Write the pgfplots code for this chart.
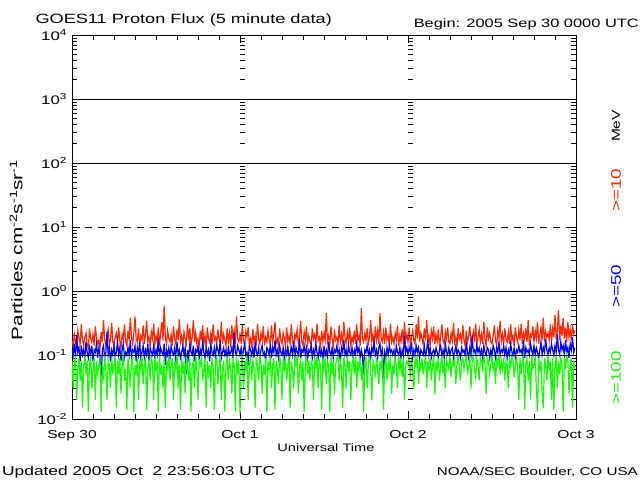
\documentclass[border=0pt]{standalone}
\usepackage{pgfplots}
\pgfplotsset{compat=1.18}
\usepackage{pgfplotstable}
\usepackage{fontspec}
\setmainfont{Liberation Sans}[FakeStretch=1.35]
\definecolor{gred}{RGB}{255,40,0}
\definecolor{gblue}{RGB}{0,0,255}
\definecolor{ggreen}{RGB}{20,255,0}
\newcommand\fs[1]{\fontsize{#1}{#1}\selectfont}
\newcommand\tp[1]{10\textsuperscript{#1}}

% >=10 MeV, 10-minute samples from 2005 Sep 30 0000 UTC (12 per row = 2 h)
\pgfplotstableread[row sep=\\,header=false]{
0.17\\0.14\\0.21\\0.16\\0.13\\0.24\\0.18\\0.15\\0.30\\0.17\\0.14\\0.19\\
0.22\\0.15\\0.13\\0.26\\0.18\\0.16\\0.21\\0.14\\0.28\\0.19\\0.15\\0.17\\
0.13\\0.23\\0.16\\0.35\\0.18\\0.14\\0.20\\0.25\\0.15\\0.17\\0.32\\0.16\\
0.14\\0.19\\0.22\\0.15\\0.27\\0.17\\0.13\\0.21\\0.18\\0.30\\0.16\\0.14\\
0.24\\0.17\\0.38\\0.19\\0.15\\0.22\\0.40\\0.18\\0.16\\0.26\\0.14\\0.20\\
0.17\\0.29\\0.15\\0.21\\0.34\\0.16\\0.19\\0.14\\0.23\\0.18\\0.31\\0.15\\
0.20\\0.16\\0.27\\0.14\\0.22\\0.33\\0.17\\0.58\\0.19\\0.15\\0.24\\0.18\\
0.16\\0.21\\0.14\\0.28\\0.18\\0.15\\0.25\\0.17\\0.36\\0.16\\0.20\\0.14\\
0.23\\0.18\\0.15\\0.31\\0.17\\0.26\\0.14\\0.19\\0.35\\0.16\\0.22\\0.15\\
0.18\\0.14\\0.24\\0.17\\0.29\\0.15\\0.20\\0.13\\0.27\\0.18\\0.16\\0.22\\
0.15\\0.30\\0.17\\0.19\\0.14\\0.25\\0.18\\0.16\\0.33\\0.15\\0.21\\0.17\\
0.14\\0.26\\0.16\\0.22\\0.13\\0.29\\0.17\\0.24\\0.15\\0.40\\0.18\\0.16\\
0.21\\0.15\\0.30\\0.17\\0.14\\0.23\\0.19\\0.27\\0.15\\0.18\\0.13\\0.25\\
0.16\\0.20\\0.14\\0.31\\0.18\\0.15\\0.22\\0.17\\0.28\\0.14\\0.19\\0.16\\
0.24\\0.17\\0.15\\0.29\\0.16\\0.21\\0.33\\0.15\\0.18\\0.14\\0.26\\0.17\\
0.15\\0.22\\0.18\\0.14\\0.27\\0.16\\0.20\\0.15\\0.30\\0.17\\0.13\\0.21\\
0.18\\0.25\\0.15\\0.19\\0.34\\0.16\\0.14\\0.23\\0.17\\0.28\\0.15\\0.20\\
0.16\\0.14\\0.26\\0.18\\0.21\\0.15\\0.31\\0.17\\0.19\\0.14\\0.24\\0.16\\
0.22\\0.17\\0.45\\0.16\\0.20\\0.15\\0.28\\0.18\\0.14\\0.25\\0.17\\0.19\\
0.15\\0.29\\0.16\\0.21\\0.14\\0.33\\0.18\\0.15\\0.23\\0.17\\0.27\\0.14\\
0.19\\0.16\\0.24\\0.15\\0.30\\0.17\\0.20\\0.14\\0.54\\0.18\\0.16\\0.22\\
0.17\\0.26\\0.15\\0.19\\0.35\\0.16\\0.21\\0.14\\0.28\\0.17\\0.24\\0.15\\
0.45\\0.18\\0.16\\0.23\\0.15\\0.27\\0.17\\0.20\\0.14\\0.31\\0.16\\0.19\\
0.15\\0.22\\0.18\\0.29\\0.14\\0.20\\0.16\\0.25\\0.15\\0.33\\0.17\\0.21\\
0.16\\0.27\\0.14\\0.19\\0.24\\0.17\\0.15\\0.30\\0.18\\0.40\\0.16\\0.22\\
0.18\\0.15\\0.26\\0.17\\0.35\\0.16\\0.20\\0.14\\0.24\\0.18\\0.28\\0.15\\
0.21\\0.16\\0.25\\0.14\\0.19\\0.30\\0.17\\0.15\\0.23\\0.18\\0.27\\0.16\\
0.15\\0.22\\0.17\\0.32\\0.16\\0.19\\0.14\\0.26\\0.18\\0.21\\0.15\\0.29\\
0.17\\0.14\\0.24\\0.16\\0.20\\0.28\\0.15\\0.18\\0.23\\0.16\\0.31\\0.14\\
0.19\\0.25\\0.16\\0.21\\0.15\\0.33\\0.17\\0.14\\0.27\\0.18\\0.22\\0.16\\
0.15\\0.20\\0.29\\0.17\\0.14\\0.24\\0.19\\0.34\\0.16\\0.21\\0.15\\0.26\\
0.18\\0.16\\0.23\\0.15\\0.30\\0.17\\0.20\\0.14\\0.27\\0.19\\0.16\\0.25\\
0.17\\0.31\\0.15\\0.22\\0.18\\0.26\\0.16\\0.35\\0.14\\0.21\\0.19\\0.28\\
0.16\\0.24\\0.18\\0.33\\0.15\\0.20\\0.27\\0.17\\0.38\\0.16\\0.23\\0.19\\
0.22\\0.17\\0.30\\0.16\\0.26\\0.19\\0.42\\0.18\\0.24\\0.50\\0.17\\0.29\\
0.20\\0.38\\0.18\\0.27\\0.16\\0.33\\0.19\\0.25\\0.17\\0.30\\0.21\\0.24\\
}\redtab

% >=50 MeV
\pgfplotstableread[row sep=\\,header=false]{
0.12\\0.10\\0.15\\0.09\\0.20\\0.11\\0.13\\0.08\\0.14\\0.10\\0.12\\0.09\\
0.16\\0.11\\0.09\\0.13\\0.10\\0.14\\0.08\\0.12\\0.11\\0.15\\0.09\\0.13\\
0.10\\0.04\\0.12\\0.14\\0.09\\0.11\\0.23\\0.10\\0.13\\0.08\\0.12\\0.10\\
0.14\\0.09\\0.11\\0.16\\0.10\\0.13\\0.08\\0.12\\0.15\\0.09\\0.11\\0.10\\
0.13\\0.10\\0.17\\0.09\\0.12\\0.11\\0.14\\0.08\\0.13\\0.10\\0.16\\0.09\\
0.11\\0.14\\0.09\\0.12\\0.10\\0.15\\0.08\\0.13\\0.11\\0.10\\0.14\\0.09\\
0.12\\0.10\\0.18\\0.09\\0.13\\0.11\\0.10\\0.15\\0.07\\0.12\\0.10\\0.13\\
0.09\\0.14\\0.11\\0.10\\0.13\\0.08\\0.16\\0.10\\0.12\\0.09\\0.11\\0.14\\
0.10\\0.13\\0.05\\0.12\\0.09\\0.15\\0.11\\0.10\\0.14\\0.08\\0.12\\0.11\\
0.14\\0.09\\0.12\\0.10\\0.16\\0.11\\0.09\\0.13\\0.10\\0.12\\0.08\\0.15\\
0.11\\0.10\\0.13\\0.09\\0.14\\0.12\\0.10\\0.17\\0.09\\0.11\\0.13\\0.10\\
0.12\\0.08\\0.14\\0.10\\0.11\\0.13\\0.09\\0.22\\0.11\\0.10\\0.14\\0.12\\
0.10\\0.13\\0.09\\0.12\\0.15\\0.10\\0.11\\0.08\\0.14\\0.12\\0.10\\0.13\\
0.09\\0.16\\0.11\\0.10\\0.13\\0.09\\0.12\\0.14\\0.10\\0.11\\0.08\\0.13\\
0.12\\0.10\\0.15\\0.09\\0.13\\0.11\\0.17\\0.10\\0.12\\0.09\\0.14\\0.11\\
0.10\\0.13\\0.09\\0.12\\0.10\\0.14\\0.08\\0.11\\0.13\\0.10\\0.16\\0.09\\
0.13\\0.11\\0.10\\0.18\\0.09\\0.12\\0.11\\0.14\\0.10\\0.13\\0.09\\0.12\\
0.11\\0.14\\0.09\\0.12\\0.10\\0.15\\0.11\\0.09\\0.13\\0.10\\0.12\\0.08\\
0.14\\0.10\\0.12\\0.09\\0.16\\0.11\\0.10\\0.13\\0.09\\0.12\\0.11\\0.14\\
0.10\\0.12\\0.08\\0.13\\0.11\\0.17\\0.10\\0.12\\0.09\\0.14\\0.11\\0.10\\
0.13\\0.09\\0.12\\0.10\\0.15\\0.11\\0.13\\0.09\\0.12\\0.10\\0.05\\0.12\\
0.11\\0.14\\0.10\\0.12\\0.09\\0.13\\0.11\\0.16\\0.10\\0.12\\0.09\\0.13\\
0.15\\0.10\\0.12\\0.04\\0.11\\0.09\\0.13\\0.10\\0.14\\0.11\\0.12\\0.10\\
0.12\\0.09\\0.14\\0.11\\0.10\\0.13\\0.09\\0.12\\0.10\\0.20\\0.11\\0.13\\
0.10\\0.13\\0.11\\0.16\\0.09\\0.12\\0.10\\0.14\\0.11\\0.13\\0.09\\0.12\\
0.11\\0.10\\0.14\\0.09\\0.12\\0.17\\0.10\\0.13\\0.09\\0.11\\0.12\\0.10\\
0.13\\0.11\\0.09\\0.12\\0.14\\0.10\\0.12\\0.09\\0.15\\0.11\\0.10\\0.13\\
0.10\\0.12\\0.13\\0.09\\0.11\\0.14\\0.10\\0.12\\0.11\\0.09\\0.13\\0.11\\
0.12\\0.10\\0.15\\0.11\\0.09\\0.13\\0.10\\0.20\\0.11\\0.12\\0.10\\0.14\\
0.11\\0.13\\0.10\\0.12\\0.09\\0.14\\0.11\\0.10\\0.13\\0.12\\0.09\\0.12\\
0.10\\0.14\\0.12\\0.09\\0.13\\0.11\\0.16\\0.10\\0.12\\0.11\\0.14\\0.10\\
0.13\\0.09\\0.12\\0.10\\0.15\\0.11\\0.10\\0.13\\0.09\\0.12\\0.11\\0.14\\
0.11\\0.12\\0.10\\0.17\\0.09\\0.13\\0.11\\0.12\\0.10\\0.15\\0.12\\0.10\\
0.14\\0.10\\0.13\\0.11\\0.09\\0.12\\0.16\\0.10\\0.13\\0.11\\0.18\\0.12\\
0.10\\0.13\\0.11\\0.15\\0.12\\0.10\\0.14\\0.11\\0.21\\0.12\\0.10\\0.16\\
0.12\\0.14\\0.10\\0.17\\0.11\\0.13\\0.09\\0.15\\0.12\\0.19\\0.11\\0.13\\
}\bluetab

% >=100 MeV
\pgfplotstableread[row sep=\\,header=false]{
0.08\\0.03\\0.07\\0.10\\0.02\\0.06\\0.09\\0.04\\0.08\\0.015\\0.07\\0.09\\
0.05\\0.08\\0.013\\0.07\\0.10\\0.03\\0.06\\0.09\\0.02\\0.08\\0.05\\0.07\\
0.09\\0.013\\0.07\\0.04\\0.10\\0.06\\0.02\\0.08\\0.07\\0.03\\0.09\\0.05\\
0.07\\0.10\\0.015\\0.08\\0.05\\0.09\\0.025\\0.07\\0.11\\0.04\\0.06\\0.014\\
0.09\\0.06\\0.03\\0.08\\0.10\\0.013\\0.07\\0.05\\0.09\\0.02\\0.08\\0.06\\
0.10\\0.035\\0.07\\0.09\\0.014\\0.06\\0.08\\0.04\\0.10\\0.07\\0.02\\0.09\\
0.06\\0.08\\0.013\\0.10\\0.05\\0.07\\0.03\\0.09\\0.015\\0.08\\0.06\\0.10\\
0.04\\0.07\\0.09\\0.02\\0.08\\0.06\\0.11\\0.03\\0.07\\0.014\\0.09\\0.05\\
0.08\\0.025\\0.10\\0.06\\0.04\\0.09\\0.013\\0.07\\0.08\\0.03\\0.10\\0.06\\
0.02\\0.08\\0.07\\0.10\\0.04\\0.06\\0.09\\0.015\\0.08\\0.05\\0.07\\0.03\\
0.09\\0.06\\0.014\\0.08\\0.10\\0.035\\0.07\\0.09\\0.02\\0.06\\0.08\\0.013\\
0.07\\0.10\\0.04\\0.08\\0.06\\0.025\\0.09\\0.07\\0.013\\0.10\\0.05\\0.08\\
0.012\\0.07\\0.09\\0.03\\0.08\\0.06\\0.10\\0.02\\0.07\\0.09\\0.04\\0.08\\
0.06\\0.015\\0.09\\0.07\\0.04\\0.10\\0.08\\0.025\\0.07\\0.05\\0.09\\0.013\\
0.08\\0.06\\0.10\\0.03\\0.07\\0.09\\0.014\\0.08\\0.06\\0.035\\0.10\\0.07\\
0.02\\0.09\\0.06\\0.08\\0.04\\0.07\\0.10\\0.015\\0.08\\0.06\\0.03\\0.09\\
0.07\\0.10\\0.025\\0.06\\0.09\\0.04\\0.08\\0.013\\0.07\\0.10\\0.05\\0.08\\
0.04\\0.08\\0.07\\0.02\\0.09\\0.06\\0.10\\0.03\\0.08\\0.07\\0.014\\0.09\\
0.06\\0.09\\0.035\\0.08\\0.07\\0.013\\0.10\\0.05\\0.08\\0.025\\0.07\\0.09\\
0.10\\0.04\\0.08\\0.06\\0.015\\0.09\\0.07\\0.03\\0.10\\0.06\\0.08\\0.02\\
0.07\\0.09\\0.05\\0.10\\0.03\\0.08\\0.06\\0.09\\0.04\\0.07\\0.013\\0.08\\
0.09\\0.03\\0.07\\0.10\\0.06\\0.02\\0.08\\0.07\\0.045\\0.09\\0.06\\0.035\\
0.08\\0.06\\0.10\\0.014\\0.07\\0.09\\0.04\\0.08\\0.06\\0.10\\0.025\\0.07\\
0.05\\0.09\\0.07\\0.03\\0.10\\0.06\\0.08\\0.045\\0.09\\0.02\\0.07\\0.08\\
0.07\\0.10\\0.04\\0.08\\0.06\\0.03\\0.09\\0.07\\0.10\\0.035\\0.08\\0.06\\
0.09\\0.05\\0.07\\0.10\\0.03\\0.08\\0.06\\0.09\\0.04\\0.07\\0.10\\0.025\\
0.08\\0.06\\0.09\\0.04\\0.07\\0.10\\0.05\\0.08\\0.03\\0.09\\0.07\\0.06\\
0.10\\0.045\\0.08\\0.07\\0.09\\0.035\\0.07\\0.10\\0.06\\0.04\\0.08\\0.09\\
0.06\\0.08\\0.10\\0.05\\0.07\\0.09\\0.03\\0.08\\0.10\\0.06\\0.045\\0.09\\
0.07\\0.04\\0.09\\0.08\\0.06\\0.10\\0.07\\0.025\\0.09\\0.08\\0.05\\0.07\\
0.10\\0.06\\0.08\\0.035\\0.09\\0.07\\0.10\\0.05\\0.08\\0.06\\0.09\\0.04\\
0.08\\0.07\\0.03\\0.09\\0.06\\0.10\\0.08\\0.045\\0.07\\0.09\\0.06\\0.02\\
0.09\\0.05\\0.08\\0.10\\0.014\\0.07\\0.09\\0.04\\0.08\\0.02\\0.10\\0.06\\
0.07\\0.10\\0.03\\0.013\\0.09\\0.06\\0.08\\0.025\\0.015\\0.09\\0.07\\0.04\\
0.10\\0.06\\0.08\\0.02\\0.09\\0.014\\0.07\\0.10\\0.03\\0.08\\0.05\\0.09\\
0.07\\0.013\\0.09\\0.06\\0.10\\0.08\\0.025\\0.07\\0.09\\0.015\\0.08\\0.06\\
}\greentab

\begin{document}
\begin{tikzpicture}
\begin{axis}[
  scale only axis, width=504bp, height=384bp,
  at={(0,0)}, anchor=south west,
  xmin=0, xmax=3, ymode=log, ymin=0.01, ymax=10000,
  axis line style={black, line width=0.8bp},
  tick style={black, line width=0.8bp},
  tick align=inside,
  major tick length=8bp, minor tick length=5bp,
  xtick={0,1,2,3}, xticklabels={Sep 30,Oct 1,Oct 2,Oct 3},
  minor x tick num=7,
  ytick={0.01,0.1,1,10,100,1000,10000},
  yticklabels={\tp{-2},\tp{-1},\tp{0},\tp{1},\tp{2},\tp{3},\tp{4}},
  minor ytick={0.02,0.03,0.04,0.05,0.06,0.07,0.08,0.09,0.2,0.3,0.4,0.5,0.6,0.7,0.8,0.9,2,3,4,5,6,7,8,9,20,30,40,50,60,70,80,90,200,300,400,500,600,700,800,900,2000,3000,4000,5000,6000,7000,8000,9000},
  xticklabel style={font=\fs{11.6}, anchor=base, yshift=-19bp},
  yticklabel style={font=\fs{12.5}, xshift=-1.5bp},
  after end axis/.code={
    \foreach \dx in {1,2}{
      \foreach \v in {0.02,0.03,0.04,0.05,0.06,0.07,0.08,0.09,0.2,0.3,0.4,0.5,0.6,0.7,0.8,0.9,2,3,4,5,6,7,8,9,20,30,40,50,60,70,80,90,200,300,400,500,600,700,800,900,2000,3000,4000,5000,6000,7000,8000,9000}{
        \draw[black, line width=0.8bp] (axis cs:\dx,\v) -- ++(5bp,0);
      }
      \foreach \v in {0.1,1,10,100,1000}{
        \draw[black, line width=0.8bp] (axis cs:\dx,\v) -- ++(9bp,0);
      }
    }
  },
]
\addplot[gred, line width=1.2bp] table[x expr=\coordindex/144, y index=0] {\redtab};
\addplot[gblue, line width=1.2bp] table[x expr=\coordindex/144, y index=0] {\bluetab};
\addplot[ggreen, line width=1.2bp] table[x expr=\coordindex/144, y index=0] {\greentab};
\draw[black, line width=0.8bp] (axis cs:0,1000) -- (axis cs:3,1000);
\draw[black, line width=0.8bp] (axis cs:0,100) -- (axis cs:3,100);
\draw[black, line width=0.8bp, dash pattern=on 7bp off 6bp] (axis cs:0,10) -- (axis cs:3,10);
\draw[black, line width=0.8bp] (axis cs:0,1) -- (axis cs:3,1);
\draw[black, line width=0.8bp] (axis cs:0,0.1) -- (axis cs:3,0.1);
\end{axis}
\node[anchor=base west, font=\fs{13.5}] at (-40bp,395bp) {GOES11 Proton Flux (5 minute data)};
\node[anchor=base east, font=\fs{12.2}, inner sep=0pt] at (567bp,391bp) {Begin: 2005 Sep 30 0000 UTC};
\node[anchor=base, font=\fs{10.9}] at (254bp,-32bp) {Universal Time};
\node[anchor=base west, font=\fs{12.9}, inner sep=0pt] at (-70bp,-56bp) {Updated 2005 Oct\ \ 2 23:56:03 UTC};
\node[anchor=base east, font=\fs{11.3}, inner sep=0pt] at (566bp,-56bp) {NOAA/SEC Boulder, CO USA};
\node[rotate=90, font=\fs{15.4}] at (-56bp,169bp) {Particles cm\textsuperscript{-2}s\textsuperscript{-1}sr\textsuperscript{-1}};
\node[rotate=90, font=\fs{11.5}] at (544bp,293bp) {MeV};
\node[rotate=90, font=\fs{14}, text=gred] at (544bp,229bp) {>=10};
\node[rotate=90, font=\fs{14}, text=gblue] at (544bp,133bp) {>=50};
\node[rotate=90, font=\fs{14}, text=ggreen] at (544bp,41bp) {>=100};
\path[use as bounding box] (-72bp,-61bp) rectangle (568bp,419bp);
\end{tikzpicture}
\end{document}
